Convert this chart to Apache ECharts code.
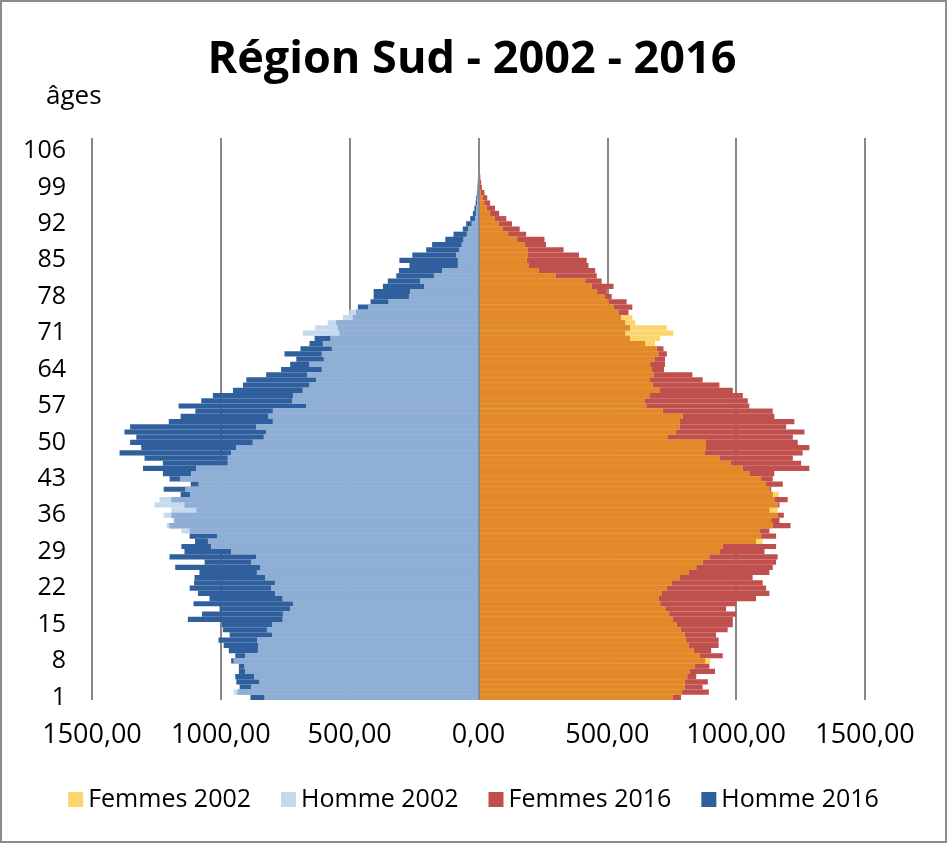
<!DOCTYPE html>
<html><head><meta charset="utf-8">
<script src="https://cdn.jsdelivr.net/npm/echarts@6/dist/echarts.min.js"></script>
<style>
html,body{margin:0;padding:0;background:#fff}
#c{width:947px;height:843px;position:absolute;left:0;top:0}
#frame{position:absolute;left:0;top:0;width:947px;height:843px;box-sizing:border-box;border:2px solid #8c8c8c;pointer-events:none}
</style>
</head><body><div id="c"></div><div id="frame"></div>
<script>
const ages = ['1','2','3','4','5','6','7','8','9','10','11','12','13','14','15','16','17','18','19','20',
'21','22','23','24','25','26','27','28','29','30','31','32','33','34','35','36','37','38','39','40',
'41','42','43','44','45','46','47','48','49','50','51','52','53','54','55','56','57','58','59','60',
'61','62','63','64','65','66','67','68','69','70','71','72','73','74','75','76','77','78','79','80',
'81','82','83','84','85','86','87','88','89','90','91','92','93','94','95','96','97','98','99','100',
'101','102','103','104','105','106','107','108'];

const homme2002 = [830,950,882,850,870,905,908,950,905,856,854,859,800,821,801,760,759,731,720,760,
789,804,790,828,860,848,882,863,960,1037,1050,1014,1153,1210,1185,1222,1192,1257,1238,1119,
1137,1086,1157,1115,1095,973,973,960,940,876,833,824,863,798,815,798,669,723,720,682,
656,630,665,608,656,600,608,569,604,574,682,634,585,526,501,429,349,270,265,210,
226,173,141,80,80,87,74,65,58,45,39,26,13,10,8,5,4,3,2,1,
1,0,0,0,0,0,0,0];

const homme2016 = [885,935,927,940,944,930,930,960,944,969,989,1009,966,992,996,1128,1073,1005,1106,1044,
1089,1121,1104,1102,1083,1177,1063,1199,1141,1153,1100,1121,1121,1200,1180,1192,1095,1141,1192,1156,
1222,1117,1199,1225,1302,1225,1296,1393,1309,1352,1328,1374,1352,1202,1156,1099,1164,1076,1031,953,
914,901,824,766,731,707,753,691,656,636,539,546,552,488,475,468,419,407,407,371,
352,319,309,268,307,257,203,180,129,97,61,48,32,22,16,11,9,6,4,3,
2,1,1,0,0,0,0,0];

const femmes2002 = [753,790,800,800,810,820,840,900,860,835,815,805,800,785,770,755,740,725,705,700,
710,730,750,780,815,845,870,896,935,948,1103,1097,1090,1142,1136,1160,1161,1161,1148,1165,
1129,1116,1097,1051,1026,980,935,877,883,883,735,767,780,780,793,715,651,644,663,702,
676,663,680,672,666,685,698,692,685,705,756,731,608,597,543,524,504,491,459,440,
414,300,233,194,187,190,190,180,150,115,95,78,62,45,32,22,15,9,5,3,
2,1,1,0,0,0,0,0];

const femmes2016 = [786,894,870,890,845,918,896,880,948,903,932,932,922,967,987,987,1000,961,1000,1077,
1129,1116,1103,1064,1129,1142,1155,1161,1110,1155,1077,1155,1129,1211,1168,1185,1129,1168,1200,1142,
1136,1181,1142,1148,1284,1252,1220,1258,1284,1239,1220,1265,1194,1226,1148,1142,1051,1045,1026,987,
935,870,830,720,724,724,731,718,647,588,569,588,569,553,582,597,575,517,498,524,
478,459,453,427,420,390,330,262,256,185,160,130,108,80,64,45,34,23,13,10,
7,4,3,2,1,1,0,0];

const xTicks = [-1500,-1000,-500,0,500,1000,1500];

const C = {
  f02:'#FDD56E', f16:'#C0504D', fBoth:'#E2892A',
  h02:'#C6D9EE', h16:'#2F609D', hBoth:'#8FAED6'
};
const neg = a => a.map(v => -v);
const both = (a,b) => a.map((v,i) => Math.min(v, b[i]));
const font = "'Open Sans', 'Noto Sans', sans-serif";

const chart = echarts.init(document.getElementById('c'), null, {renderer:'canvas'});
const barBase = {type:'bar', barGap:'-100%', barCategoryGap:'0%', animation:false, silent:true};
chart.setOption({
  backgroundColor:'#fff',
  animation:false,
  textStyle:{fontFamily:font, color:'#000'},
  title:{text:'Région Sud - 2002 - 2016', left:467, top:33, textAlign:'center',
    textStyle:{fontFamily:font, fontWeight:'bold', fontSize:45, color:'#000'}},
  graphic:[{type:'text', left:46, top:84, style:{text:'âges', fontFamily:font, fontSize:26, fill:'#000'}}],
  grid:{left:92, right:82, top:138, bottom:143},
  xAxis:{type:'value', min:-1500, max:1500, interval:500,
    axisLine:{show:false}, axisTick:{show:false},
    splitLine:{show:true, lineStyle:{color:'#878787', width:2}},
    axisLabel:{margin:22, fontSize:27, color:'#000', fontFamily:font,
      formatter:v => xTicks.includes(v) ? Math.abs(v).toFixed(2).replace('.', ',') : ''}},
  yAxis:{type:'category', data:ages, axisLine:{show:false}, axisTick:{show:false},
    axisLabel:{interval:6, margin:26, fontSize:25, color:'#000', fontFamily:font}},
  legend:{data:['Femmes 2002','Homme 2002','Femmes 2016','Homme 2016'], left:'center', top:782,
    icon:'rect', itemWidth:15, itemHeight:15, itemGap:30,
    textStyle:{fontSize:25, color:'#000', fontFamily:font}},
  series:[
    Object.assign({}, barBase, {name:'Homme 2016', data:neg(homme2016), itemStyle:{color:C.h16}}),
    Object.assign({}, barBase, {name:'Homme 2002', data:neg(homme2002), itemStyle:{color:C.h02}}),
    Object.assign({}, barBase, {name:'Homme commun', data:neg(both(homme2002, homme2016)), itemStyle:{color:C.hBoth}}),
    Object.assign({}, barBase, {name:'Femmes 2016', data:femmes2016, itemStyle:{color:C.f16}}),
    Object.assign({}, barBase, {name:'Femmes 2002', data:femmes2002, itemStyle:{color:C.f02}}),
    Object.assign({}, barBase, {name:'Femmes commun', data:both(femmes2002, femmes2016), itemStyle:{color:C.fBoth},
      markLine:{silent:true, symbol:'none', label:{show:false}, lineStyle:{color:'#8a8a8a', width:2, type:'solid'},
        data:[{xAxis:0}]}})
  ]
});
</script>
</body></html>
